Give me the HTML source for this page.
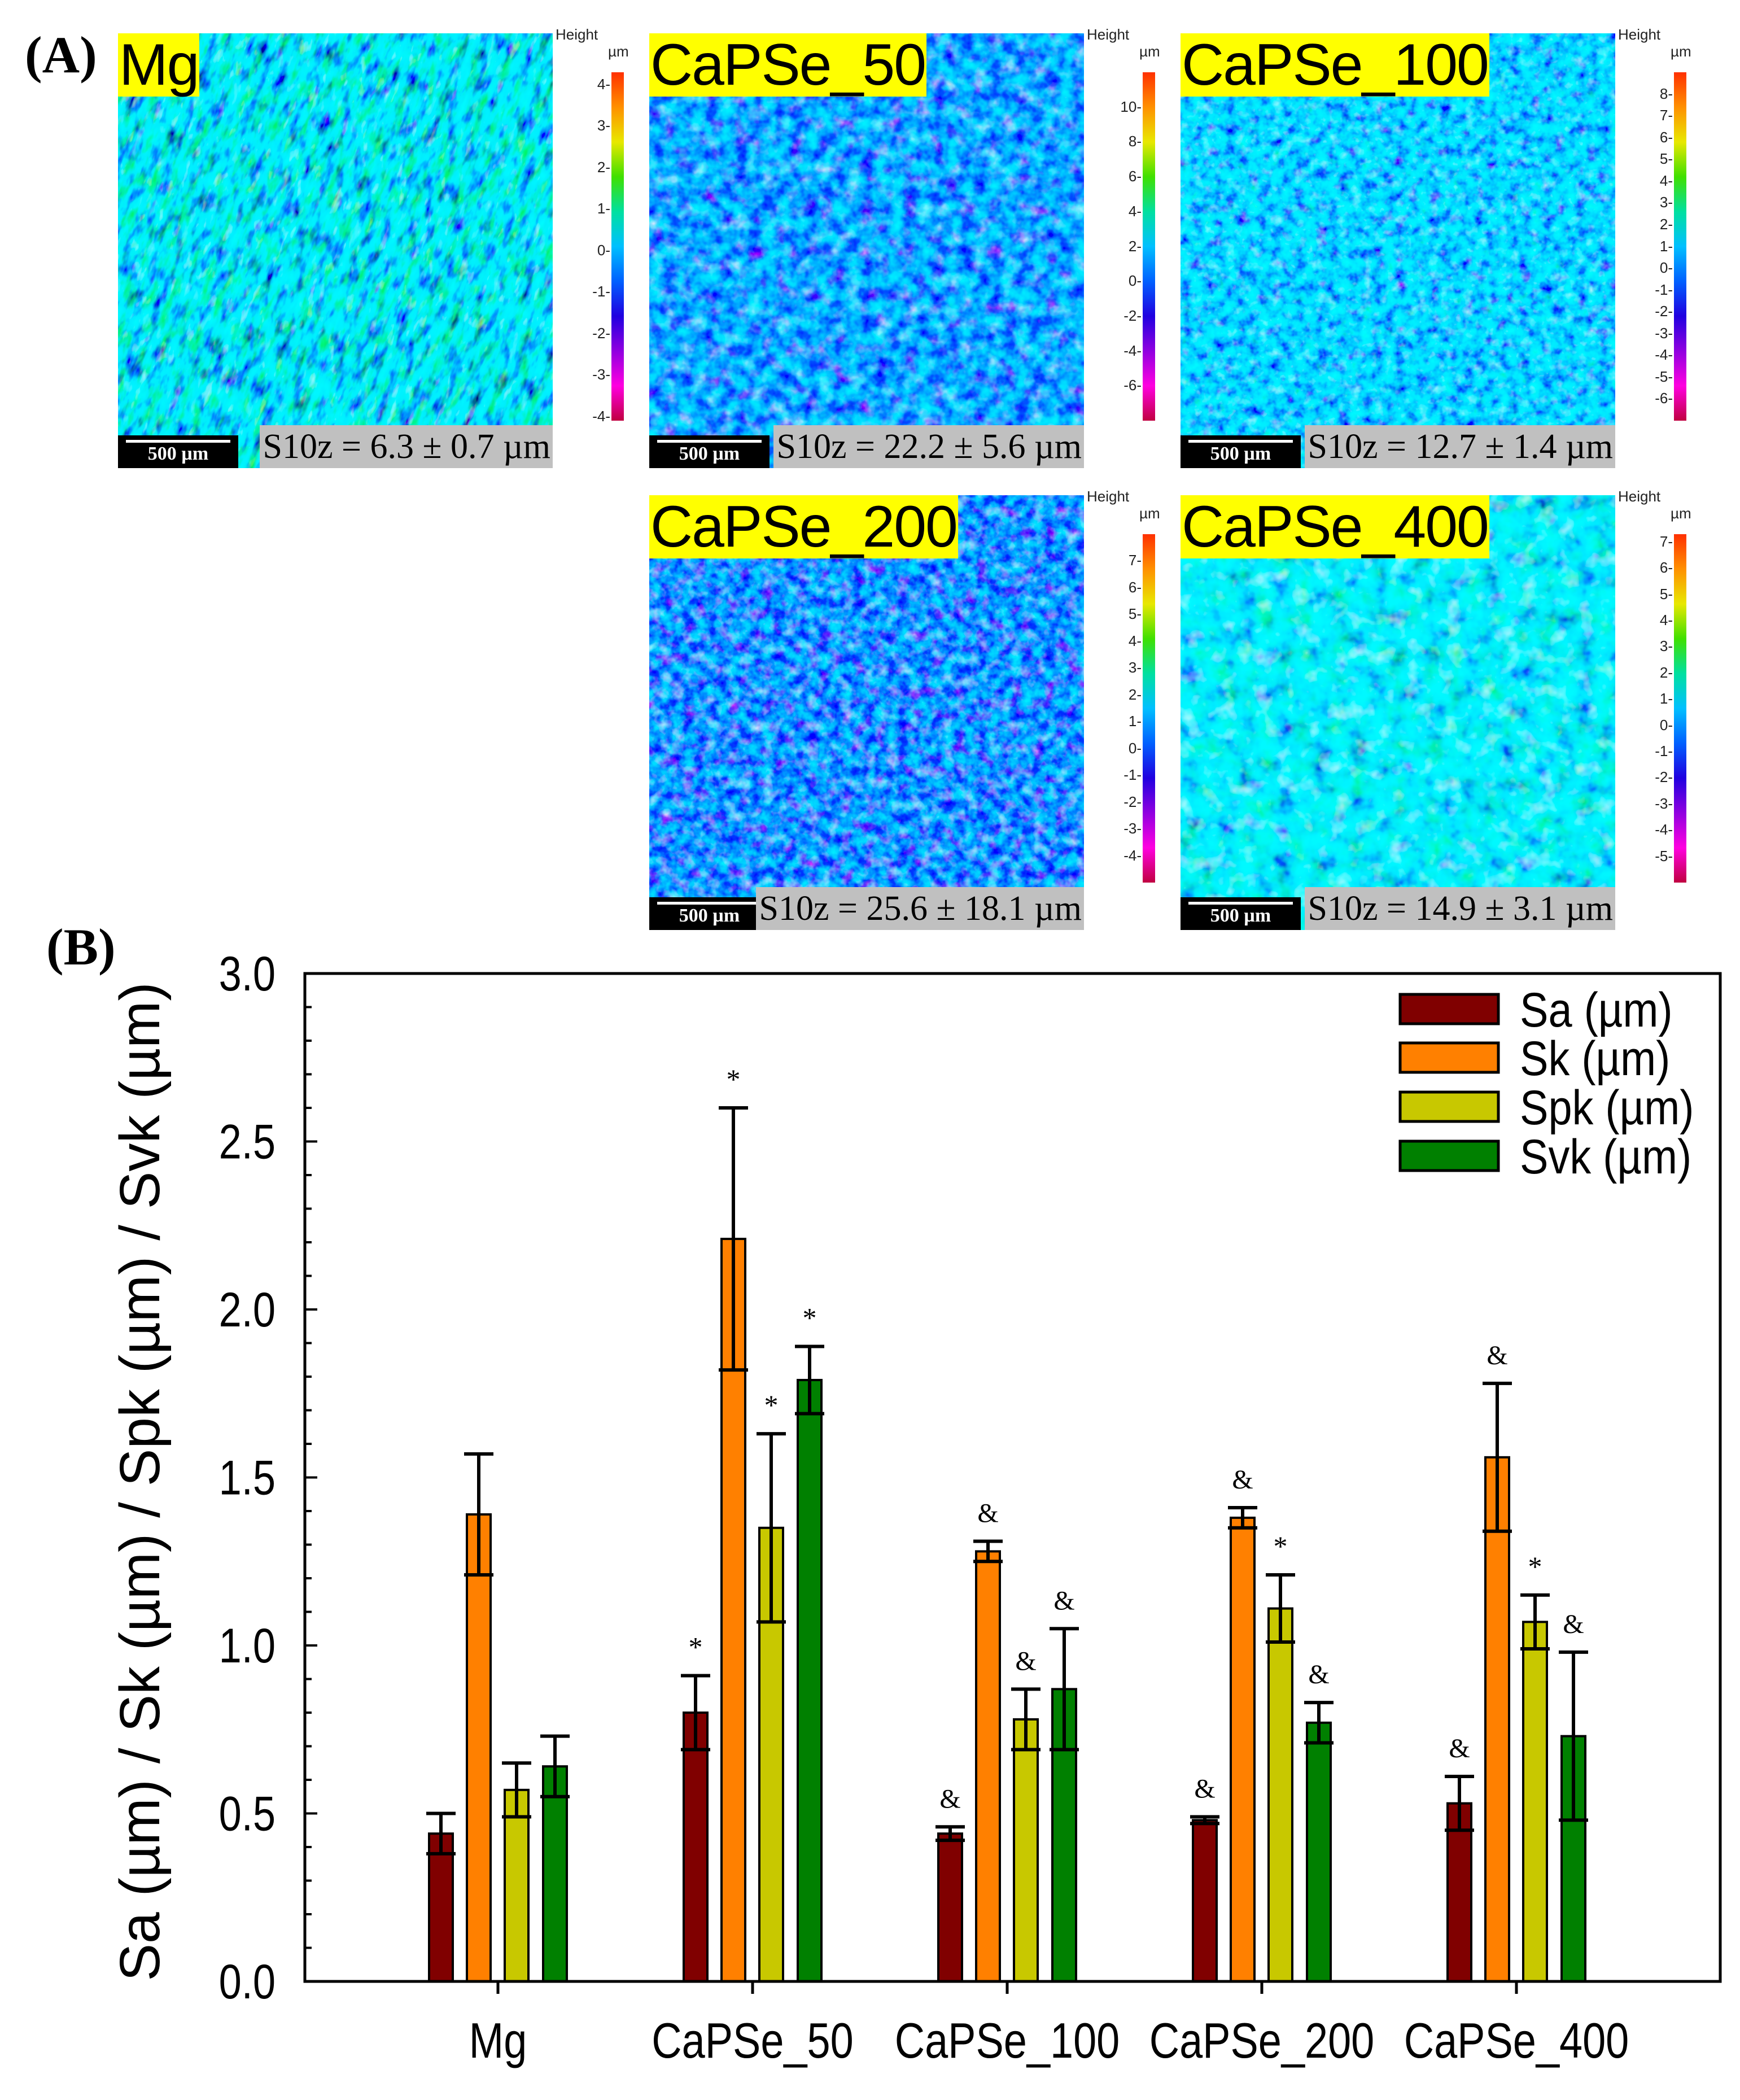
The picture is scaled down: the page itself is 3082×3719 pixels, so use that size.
<!DOCTYPE html>
<html><head><meta charset="utf-8">
<style>
html,body{margin:0;padding:0;background:#fff;}
body{width:3082px;height:3719px;position:relative;overflow:hidden;font-family:"Liberation Sans",sans-serif;}
.abs{position:absolute;}
.map{position:absolute;width:770px;height:770px;overflow:hidden;}
.lbl{position:absolute;left:0;top:0;height:112px;background:#ffff00;color:#000;font-size:104px;line-height:112px;padding:0 2px;letter-spacing:-2px;}
.sb{position:absolute;left:0;bottom:0;width:213px;height:58px;background:#000;color:#fff;font-family:"Liberation Serif",serif;font-weight:bold;font-size:34px;text-align:center;line-height:66px;}
.sb:before{content:"";position:absolute;left:14px;right:14px;top:8px;height:5px;background:#fff;}
.s10{position:absolute;right:0;bottom:0;height:76px;background:#c0c0c0;color:#000;font-family:"Liberation Serif",serif;font-size:62px;line-height:76px;padding:0 4px 0 6px;white-space:nowrap;}
.cb{position:absolute;width:22px;height:617px;background:linear-gradient(to bottom,#ff3000,#ff9000,#e8e800,#40e000,#00e0a0,#00c0ff,#0060ff,#2000e0,#9000e0,#ff00e0,#c00040);}
.ht{position:absolute;font-size:26px;color:#222;}
.ctk{position:absolute;font-size:26px;color:#222;text-align:right;width:40px;}
.panel{position:absolute;font-family:"Liberation Serif",serif;font-weight:bold;font-size:92px;}
</style></head><body>
<svg width="0" height="0" style="position:absolute">
<defs>
<filter id="fmg" x="0" y="0" width="100%" height="100%">
<feTurbulence type="fractalNoise" baseFrequency="0.06 0.025" numOctaves="3" seed="3"/>
<feComponentTransfer>
<feFuncR type="table" tableValues="0.3 0.05 0 0 0 0.15 0.4"/>
<feFuncG type="table" tableValues="0 0 0.35 0.85 0.9 0.95 0.9"/>
<feFuncB type="table" tableValues="1 1 1 0.95 0.5 0.2 0.1"/>
<feFuncA type="table" tableValues="1 1"/>
</feComponentTransfer>
</filter>
<filter id="fblue" x="0" y="0" width="100%" height="100%">
<feTurbulence type="fractalNoise" baseFrequency="0.04" numOctaves="3" seed="7"/>
<feComponentTransfer>
<feFuncR type="table" tableValues="0.9 0.3 0.05 0 0 0 0.1"/>
<feFuncG type="table" tableValues="0 0 0.1 0.4 0.7 0.85 0.95"/>
<feFuncB type="table" tableValues="0.8 1 1 1 1 0.95 0.7"/>
<feFuncA type="table" tableValues="1 1"/>
</feComponentTransfer>
</filter>
<filter id="fblue2" x="0" y="0" width="100%" height="100%">
<feTurbulence type="fractalNoise" baseFrequency="0.05" numOctaves="3" seed="11"/>
<feComponentTransfer>
<feFuncR type="table" tableValues="0.7 0.2 0.05 0 0 0 0.1 0.3"/>
<feFuncG type="table" tableValues="0 0 0.2 0.55 0.8 0.88 0.95 0.9"/>
<feFuncB type="table" tableValues="0.9 1 1 1 1 0.95 0.7 0.3"/>
<feFuncA type="table" tableValues="1 1"/>
</feComponentTransfer>
</filter>
<filter id="fblue3" x="0" y="0" width="100%" height="100%">
<feTurbulence type="fractalNoise" baseFrequency="0.05" numOctaves="3" seed="21"/>
<feComponentTransfer>
<feFuncR type="table" tableValues="0.9 0.3 0.1 0 0 0 0.1"/>
<feFuncG type="table" tableValues="0 0 0.05 0.3 0.6 0.8 0.95"/>
<feFuncB type="table" tableValues="0.8 1 1 1 1 0.95 0.7"/>
<feFuncA type="table" tableValues="1 1"/>
</feComponentTransfer>
</filter>
<filter id="fgreen" x="0" y="0" width="100%" height="100%">
<feTurbulence type="fractalNoise" baseFrequency="0.03" numOctaves="3" seed="5"/>
<feComponentTransfer>
<feFuncR type="table" tableValues="0.4 0.05 0 0 0 0.1 0.3 0.5"/>
<feFuncG type="table" tableValues="0 0.1 0.5 0.8 0.9 0.95 0.95 0.9"/>
<feFuncB type="table" tableValues="1 1 1 1 0.9 0.7 0.4 0.2"/>
<feFuncA type="table" tableValues="1 1"/>
</feComponentTransfer>
</filter>
</defs>
</svg>

<div class="panel" style="left:44px;top:44px;">(A)</div>
<div class="panel" style="left:82px;top:1624px;">(B)</div>

<div class="map" style="left:209px;top:59px;">
<svg width="770" height="770" style="position:absolute;left:0;top:0"><g transform="rotate(20 385 385)"><rect x="-300" y="-300" width="1370" height="1370" filter="url(#fmg)"/></g></svg>
<div class="lbl">Mg</div>
<div class="sb">500 µm</div>
<div class="s10">S10z = 6.3 ± 0.7 µm</div>
</div>
<div class="map" style="left:1150px;top:59px;">
<svg width="770" height="770" style="position:absolute;left:0;top:0"><rect width="770" height="770" filter="url(#fblue)"/></svg>
<div class="lbl">CaPSe_50</div>
<div class="sb">500 µm</div>
<div class="s10">S10z = 22.2 ± 5.6 µm</div>
</div>
<div class="map" style="left:2091px;top:59px;">
<svg width="770" height="770" style="position:absolute;left:0;top:0"><rect width="770" height="770" filter="url(#fblue2)"/></svg>
<div class="lbl">CaPSe_100</div>
<div class="sb">500 µm</div>
<div class="s10">S10z = 12.7 ± 1.4 µm</div>
</div>
<div class="map" style="left:1150px;top:877px;">
<svg width="770" height="770" style="position:absolute;left:0;top:0"><rect width="770" height="770" filter="url(#fblue3)"/></svg>
<div class="lbl">CaPSe_200</div>
<div class="sb">500 µm</div>
<div class="s10">S10z = 25.6 ± 18.1 µm</div>
</div>
<div class="map" style="left:2091px;top:877px;">
<svg width="770" height="770" style="position:absolute;left:0;top:0"><rect width="770" height="770" filter="url(#fgreen)"/></svg>
<div class="lbl">CaPSe_400</div>
<div class="sb">500 µm</div>
<div class="s10">S10z = 14.9 ± 3.1 µm</div>
</div>

<div id="colorbars"></div>

<svg id="chart" class="abs" style="left:0;top:0" width="3082" height="3719"></svg>

<script>
const cbDefs = [
 {x:1083,y:128,top:4.3,bot:-4.1,ticks:[4,3,2,1,0,-1,-2,-3,-4],name:'mg'},
 {x:2024,y:128,top:12,bot:-8,ticks:[10,8,6,4,2,0,-2,-4,-6],name:'capse50'},
 {x:2965,y:128,top:9,bot:-7,ticks:[8,7,6,5,4,3,2,1,0,-1,-2,-3,-4,-5,-6],name:'capse100'},
 {x:2024,y:946,top:8,bot:-5,ticks:[7,6,5,4,3,2,1,0,-1,-2,-3,-4],name:'capse200'},
 {x:2965,y:946,top:7.3,bot:-6,ticks:[7,6,5,4,3,2,1,0,-1,-2,-3,-4,-5],name:'capse400'}
];
const cbWrap = document.getElementById('colorbars');
cbDefs.forEach(d=>{
  const b=document.createElement('div');b.className='cb';b.style.left=d.x+'px';b.style.top=d.y+'px';
  
  
  cbWrap.appendChild(b);
  const h=document.createElement('div');h.className='ht';h.textContent='Height';h.style.left=(d.x-99)+'px';h.style.top=(d.y-82)+'px';
  
  
  cbWrap.appendChild(h);
  const u=document.createElement('div');u.className='ht';u.textContent='µm';u.style.left=(d.x-6)+'px';u.style.top=(d.y-52)+'px';
  
  
  cbWrap.appendChild(u);
  d.ticks.forEach(t=>{
    const yy=d.y+(d.top-t)/(d.top-d.bot)*617;
    const l=document.createElement('div');l.className='ctk';l.textContent=t+'-';l.style.left=(d.x-42)+'px';l.style.top=(yy-16)+'px';
    
    
    cbWrap.appendChild(l);
  });
});

// Chart data
const categories = ['Mg','CaPSe_50','CaPSe_100','CaPSe_200','CaPSe_400'];
const seriesNames = ['Sa (µm)','Sk (µm)','Spk (µm)','Svk (µm)'];
const seriesColors = ['#800000','#ff8000','#c8c800','#008000'];
const saVals = [0.44, 0.80, 0.44, 0.48, 0.53];
const skVals = [1.39, 2.21, 1.28, 1.38, 1.56];
const spkVals = [0.57, 1.35, 0.78, 1.11, 1.07];
const svkVals = [0.64, 1.79, 0.87, 0.77, 0.73];
const saErr = [0.06, 0.11, 0.02, 0.01, 0.08];
const skErr = [0.18, 0.39, 0.03, 0.03, 0.22];
const spkErr = [0.08, 0.28, 0.09, 0.10, 0.08];
const svkErr = [0.09, 0.10, 0.18, 0.06, 0.25];
const saMark = ['', '*', '&', '&', '&'];
const skMark = ['', '*', '&', '&', '&'];
const spkMark = ['', '*', '&', '*', '*'];
const svkMark = ['', '*', '&', '&', '&'];
const yTicks = [0.0,0.5,1.0,1.5,2.0,2.5,3.0];
const yTickLabels = ['0.0','0.5','1.0','1.5','2.0','2.5','3.0'];

const NS='http://www.w3.org/2000/svg';
const svg=document.getElementById('chart');
const X0=540,X1=3047,Y0=3509,Y1=1724,YMAX=3.0;
const yS=v=>Y0-(v/YMAX)*(Y0-Y1);
const groupC=i=>882+i*451;
const barOff=[-101,-34,33,101];
const BW=42;
function el(tag,attrs){const e=document.createElementNS(NS,tag);for(const k in attrs)e.setAttribute(k,attrs[k]);svg.appendChild(e);return e;}

const vals=[saVals,skVals,spkVals,svkVals];
const errs=[saErr,skErr,spkErr,svkErr];
const marks=[saMark,skMark,spkMark,svkMark];
const sKeys=['sa','sk','spk','svk'];
categories.forEach((c,i)=>{
  vals.forEach((arr,s)=>{
    const cx=groupC(i)+barOff[s], v=arr[i], e=errs[s][i];
    const r=el('rect',{x:cx-BW/2,y:yS(v),width:BW,height:Y0-yS(v),fill:seriesColors[s],stroke:'#000','stroke-width':4});
    
    
    const eb=el('path',{d:`M${cx} ${yS(v+e)}V${yS(v-e)}M${cx-26} ${yS(v+e)}H${cx+26}M${cx-26} ${yS(v-e)}H${cx+26}`,stroke:'#000','stroke-width':6,fill:'none'});
    
    
    if(marks[s][i]){
      const t=el('text',{x:cx,y:yS(v+e)-34,'text-anchor':'middle','font-family':'Liberation Serif, serif','font-size':marks[s][i]=='*'?50:48,fill:'#000'});
      t.textContent=marks[s][i];
      
      
    }
  });
  const tk=el('line',{x1:groupC(i),x2:groupC(i),y1:Y0,y2:Y0+22,stroke:'#000','stroke-width':5});
  
  
  const lt=el('text',{x:0,y:0,'text-anchor':'middle','font-size':88,fill:'#000',transform:`translate(${groupC(i)},3644) scale(0.84,1)`});
  lt.textContent=c;
  
  
});
for(let k=0;k<=30;k++){
  const v=k/10, major=(k%5===0);
  const t=el('line',{x1:X0,x2:X0+(major?22:12),y1:yS(v),y2:yS(v),stroke:'#000','stroke-width':4});
  
  
}
yTicks.forEach((v,i)=>{
  const t=el('text',{x:0,y:0,'text-anchor':'end','font-size':86,fill:'#000',transform:`translate(488,${yS(v)+30}) scale(0.84,1)`});
  t.textContent=yTickLabels[i];
  
  
});
const frame=el('rect',{x:X0,y:Y1,width:X1-X0,height:Y0-Y1,fill:'none',stroke:'#000','stroke-width':5});


const yt=el('text',{x:0,y:0,'text-anchor':'middle','font-size':100,fill:'#000',transform:'translate(282,2624) rotate(-90)'});
yt.textContent='Sa (µm) / Sk (µm) / Spk (µm) / Svk (µm)';


const legY=[1788,1874,1961,2048];
seriesNames.forEach((n,s)=>{
  const r=el('rect',{x:2480,y:legY[s]-27,width:174,height:52,fill:seriesColors[s],stroke:'#000','stroke-width':5});
  
  
  const t=el('text',{x:0,y:0,'font-size':86,fill:'#000',transform:`translate(2692,${legY[s]+30}) scale(0.88,1)`});
  t.textContent=n;
  
  
});
</script>
</body></html>
